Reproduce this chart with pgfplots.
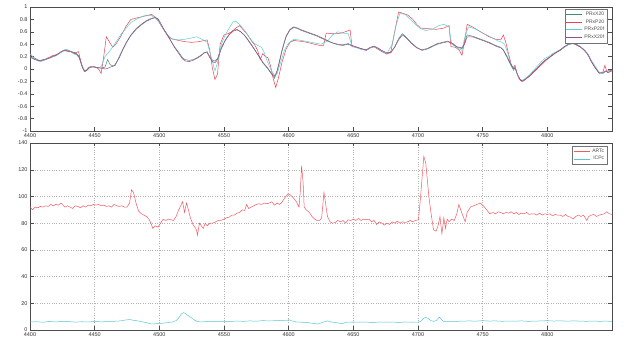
\documentclass[border=0pt]{standalone}
\usepackage{fontspec}
\setmainfont{Liberation Sans}
\usepackage{pgfplots}
\pgfplotsset{compat=1.18}
\definecolor{cgreen}{rgb}{0.25,0.55,0.42}
\definecolor{cred}{rgb}{0.93,0.25,0.32}
\definecolor{ccyan}{rgb}{0.35,0.82,0.82}
\definecolor{cpurple}{rgb}{0.6,0.3,0.55}
\definecolor{bred}{rgb}{0.95,0.35,0.4}
\definecolor{bcyan}{rgb}{0.35,0.78,0.82}
\pgfplotsset{legend image code/.code={\draw[#1, line width=0.6pt] (0pt,0pt) -- (16pt,0pt);}}
\pgfplotsset{
  mystyle/.style={
    scale only axis, width=582pt, xmin=4400, xmax=4850,
    xtick={4400,4450,4500,4550,4600,4650,4700,4750,4800},
    /pgf/number format/1000 sep={},
    /pgf/number format/assume math mode=true,
    tick align=inside, major tick length=3.5pt,
    tick style={black!70, line width=0.4pt},
    axis line style={black!70, line width=0.5pt},
    ticklabel style={font=\fontsize{5.5}{6.5}\selectfont, text=black!80},
    xticklabel style={yshift=1pt},
    yticklabel style={xshift=1pt},
    legend style={font=\fontsize{5}{6}\selectfont, text=black!70, draw=black!55,
      at={(0.992,0.985)}, anchor=north east, inner sep=1pt, row sep=-1.5pt,
      cells={anchor=east}},
    every axis plot/.append style={line width=0.5pt},
  }
}
\begin{document}
\begin{tikzpicture}
\path[use as bounding box] (0,0) rectangle (624pt,343pt);
\begin{axis}[mystyle, at={(30pt,212pt)}, anchor=south west, height=124pt,
  ymin=-1, ymax=1, ytick={-1,-0.8,-0.6,-0.4,-0.2,0,0.2,0.4,0.6,0.8,1}]
\addplot[color=cgreen] coordinates {
(4400,0.2)(4402,0.18)(4404,0.16)(4406,0.14)(4408,0.13)(4410,0.14)(4412,0.15)(4414,0.17)(4416,0.18)(4418,0.2)
(4420,0.22)(4422,0.24)(4424,0.27)(4426,0.29)(4428,0.3)(4430,0.29)(4432,0.28)(4434,0.27)(4436,0.25)(4438,0.2)
(4440,0.07)(4442,-0.03)(4444,-0.02)(4446,0.03)(4448,0.04)(4450,0.03)(4453,0.02)(4456,0.02)(4458,0.03)(4460,0.15)
(4462,0.07)(4464,0.05)(4466,0.06)(4469,0.2)(4472,0.33)(4475,0.45)(4478,0.55)(4482,0.65)(4486,0.72)(4490,0.78)
(4494,0.82)(4497,0.83)(4499,0.8)(4501,0.72)(4503,0.65)(4506,0.55)(4509,0.45)(4512,0.35)(4515,0.27)(4518,0.18)
(4520,0.15)(4523,0.14)(4526,0.15)(4529,0.18)(4532,0.22)(4535,0.26)(4537,0.28)(4539,0.2)(4541,0.14)(4543,0.13)
(4545,0.17)(4548,0.35)(4551,0.47)(4554,0.56)(4557,0.62)(4560,0.64)(4563,0.6)(4566,0.54)(4569,0.46)(4572,0.37)
(4575,0.27)(4578,0.17)(4580,0.1)(4582,0.05)(4584,0.0)(4586,-0.06)(4589,-0.15)(4591,-0.05)(4593,0.12)(4595,0.3)
(4598,0.52)(4601,0.63)(4604,0.67)(4607,0.65)(4610,0.62)(4614,0.59)(4618,0.56)(4622,0.53)(4626,0.49)(4630,0.45)
(4634,0.42)(4638,0.39)(4642,0.38)(4646,0.4)(4649,0.37)(4652,0.35)(4656,0.32)(4660,0.3)(4663,0.34)(4666,0.36)
(4669,0.33)(4672,0.29)(4676,0.25)(4679,0.26)(4682,0.36)(4685,0.49)(4688,0.57)(4691,0.51)(4695,0.42)(4699,0.35)
(4703,0.3)(4707,0.32)(4711,0.36)(4715,0.4)(4719,0.42)(4723,0.44)(4727,0.4)(4730,0.35)(4734,0.33)(4736,0.42)
(4738,0.55)(4742,0.53)(4746,0.5)(4750,0.47)(4755,0.43)(4760,0.38)(4764,0.35)(4766,0.3)(4769,0.18)(4772,0.05)
(4774,-0.02)(4775,0.03)(4777,-0.1)(4779,-0.18)(4781,-0.19)(4783,-0.16)(4786,-0.12)(4789,-0.06)(4792,0.0)(4795,0.07)
(4798,0.13)(4801,0.18)(4804,0.22)(4807,0.27)(4810,0.3)(4813,0.35)(4816,0.39)(4819,0.41)(4822,0.4)(4825,0.37)
(4828,0.32)(4831,0.25)(4834,0.13)(4837,0.03)(4840,-0.06)(4843,-0.07)(4845,-0.04)(4847,-0.05)(4850,-0.02)
};
\addlegendentry{PRxX20}
\addplot[color=cred] coordinates {
(4400,0.25)(4402,0.2)(4404,0.17)(4406,0.15)(4408,0.13)(4410,0.14)(4412,0.16)(4414,0.18)(4416,0.2)(4418,0.22)
(4420,0.23)(4422,0.25)(4424,0.27)(4426,0.3)(4428,0.31)(4430,0.3)(4432,0.27)(4434,0.25)(4436,0.27)(4437.5,0.28)
(4439,0.15)(4441,0.0)(4443,-0.04)(4445,0.02)(4447,0.04)(4450,0.04)(4453,0.0)(4455,-0.07)(4457,0.2)(4459,0.52)
(4461,0.45)(4464,0.35)(4467,0.42)(4470,0.52)(4474,0.68)(4478,0.8)(4482,0.82)(4486,0.84)(4490,0.86)(4494,0.88)
(4496,0.85)(4499,0.78)(4502,0.68)(4505,0.58)(4508,0.5)(4511,0.48)(4515,0.46)(4520,0.44)(4525,0.43)(4530,0.44)
(4535,0.46)(4537,0.47)(4539,0.3)(4541,0.02)(4543,-0.17)(4545,-0.08)(4547,0.4)(4550,0.55)(4553,0.57)(4556,0.6)
(4559,0.66)(4562,0.7)(4565,0.63)(4568,0.56)(4571,0.46)(4574,0.38)(4576,0.3)(4578,0.15)(4580,0.25)(4582,0.2)
(4584,0.18)(4586,0.05)(4588,-0.15)(4590,-0.3)(4592,-0.15)(4595,0.12)(4598,0.32)(4601,0.43)(4604,0.46)(4608,0.45)
(4612,0.44)(4616,0.42)(4620,0.4)(4624,0.38)(4627,0.38)(4629,0.58)(4633,0.57)(4637,0.57)(4641,0.58)(4645,0.61)
(4647.5,0.63)(4649,0.36)(4652,0.35)(4656,0.33)(4660,0.3)(4663,0.34)(4666,0.36)(4669,0.32)(4672,0.28)(4676,0.24)
(4679,0.28)(4682,0.6)(4685,0.92)(4688,0.9)(4692,0.87)(4696,0.8)(4699,0.72)(4702,0.66)(4708,0.65)(4714,0.64)
(4720,0.66)(4724,0.7)(4725.5,0.36)(4729,0.35)(4732,0.3)(4734,0.22)(4736,0.45)(4738,0.72)(4742,0.68)(4746,0.63)
(4750,0.58)(4755,0.52)(4760,0.48)(4764,0.47)(4766,0.55)(4768,0.42)(4770,0.25)(4772,0.08)(4773.5,0.02)(4775,0.06)
(4776.5,-0.07)(4778,-0.15)(4780,-0.2)(4782,-0.18)(4784,-0.14)(4787,-0.1)(4790,-0.04)(4793,0.02)(4796,0.08)(4799,0.14)
(4802,0.19)(4805,0.24)(4808,0.28)(4811,0.32)(4814,0.37)(4817,0.4)(4820,0.41)(4823,0.38)(4826,0.35)(4829,0.3)
(4832,0.22)(4834,0.12)(4837,0.02)(4840,-0.06)(4843,-0.05)(4844.5,0.06)(4846,-0.04)(4848,-0.02)(4850,-0.03)
};
\addlegendentry{PRxP20}
\addplot[color=ccyan] coordinates {
(4400,0.24)(4402,0.2)(4404,0.16)(4406,0.13)(4408,0.12)(4410,0.13)(4412,0.15)(4414,0.17)(4416,0.19)(4418,0.2)
(4420,0.21)(4422,0.24)(4424,0.27)(4426,0.3)(4428,0.32)(4430,0.3)(4432,0.28)(4434,0.24)(4436,0.23)(4438,0.18)
(4440,0.06)(4442,-0.02)(4444,-0.01)(4446,0.03)(4448,0.04)(4450,0.03)(4453,0.02)(4455,0.04)(4458,0.2)(4462,0.3)
(4466,0.42)(4470,0.55)(4474,0.65)(4478,0.75)(4482,0.8)(4486,0.84)(4490,0.87)(4494,0.86)(4497,0.82)(4500,0.75)
(4503,0.65)(4506,0.56)(4510,0.48)(4515,0.47)(4520,0.48)(4525,0.5)(4529,0.52)(4533,0.48)(4537,0.43)(4540,0.2)
(4543,-0.03)(4545,0.1)(4548,0.4)(4551,0.55)(4554,0.66)(4557,0.76)(4559,0.77)(4562,0.72)(4566,0.62)(4570,0.5)
(4573,0.42)(4576,0.38)(4579,0.35)(4581,0.27)(4583,0.15)(4586,0.0)(4589,-0.1)(4591,-0.08)(4594,0.12)(4597,0.32)
(4600,0.42)(4604,0.48)(4610,0.46)(4615,0.44)(4620,0.42)(4625,0.4)(4630,0.45)(4634,0.55)(4638,0.6)(4642,0.58)
(4646,0.57)(4649,0.37)(4652,0.35)(4656,0.32)(4660,0.3)(4663,0.34)(4666,0.36)(4669,0.33)(4672,0.29)(4676,0.25)
(4680,0.4)(4683,0.7)(4686,0.9)(4690,0.88)(4694,0.8)(4698,0.72)(4702,0.65)(4706,0.62)(4711,0.64)(4716,0.7)
(4720,0.72)(4724,0.68)(4726,0.4)(4729,0.36)(4732,0.32)(4734,0.3)(4736,0.5)(4739,0.68)(4744,0.65)(4750,0.58)
(4756,0.52)(4762,0.45)(4765,0.43)(4767,0.4)(4770,0.22)(4772,0.06)(4774,-0.01)(4775,0.03)(4777,-0.1)(4779,-0.17)
(4781,-0.18)(4783,-0.15)(4786,-0.1)(4789,-0.03)(4792,0.04)(4795,0.11)(4798,0.17)(4801,0.2)(4804,0.25)(4807,0.28)
(4810,0.31)(4813,0.35)(4816,0.39)(4819,0.41)(4822,0.4)(4825,0.37)(4828,0.32)(4831,0.25)(4834,0.14)(4837,0.04)
(4840,-0.05)(4843,-0.07)(4845,-0.04)(4847,-0.05)(4850,-0.02)
};
\addlegendentry{PRxP20f}
\addplot[color=cpurple] coordinates {
(4400,0.19)(4402,0.17)(4404,0.15)(4406,0.14)(4408,0.14)(4410,0.15)(4412,0.16)(4414,0.17)(4416,0.19)(4418,0.21)
(4420,0.22)(4422,0.25)(4424,0.28)(4426,0.3)(4428,0.29)(4430,0.28)(4432,0.28)(4434,0.26)(4436,0.24)(4438,0.19)
(4440,0.05)(4442,-0.04)(4444,-0.02)(4446,0.02)(4448,0.03)(4450,0.03)(4453,0.02)(4456,0.01)(4458,0.0)(4460,0.01)
(4462,0.03)(4465,0.05)(4469,0.18)(4472,0.32)(4475,0.44)(4478,0.54)(4482,0.64)(4486,0.71)(4490,0.77)(4494,0.81)
(4497,0.83)(4499,0.81)(4501,0.74)(4503,0.66)(4506,0.56)(4509,0.45)(4512,0.34)(4515,0.25)(4518,0.16)(4520,0.13)
(4523,0.12)(4526,0.14)(4529,0.17)(4532,0.21)(4535,0.27)(4537,0.26)(4539,0.18)(4541,0.12)(4543,0.1)(4545,0.15)
(4548,0.33)(4551,0.46)(4554,0.55)(4557,0.61)(4560,0.63)(4563,0.6)(4566,0.54)(4569,0.45)(4572,0.36)(4575,0.27)
(4578,0.18)(4580,0.11)(4582,0.06)(4584,0.01)(4586,-0.05)(4589,-0.12)(4591,-0.03)(4593,0.14)(4595,0.32)(4598,0.53)
(4601,0.64)(4604,0.68)(4607,0.66)(4610,0.63)(4614,0.6)(4618,0.57)(4622,0.54)(4626,0.5)(4630,0.46)(4634,0.42)
(4638,0.4)(4642,0.39)(4646,0.41)(4649,0.38)(4652,0.36)(4656,0.33)(4660,0.31)(4663,0.35)(4666,0.37)(4669,0.34)
(4672,0.3)(4676,0.26)(4679,0.27)(4682,0.35)(4685,0.47)(4688,0.55)(4691,0.5)(4695,0.41)(4699,0.34)(4703,0.31)
(4707,0.33)(4711,0.37)(4715,0.41)(4719,0.43)(4723,0.45)(4727,0.41)(4730,0.36)(4734,0.34)(4736,0.4)(4738,0.52)
(4742,0.52)(4746,0.49)(4750,0.46)(4755,0.42)(4760,0.37)(4764,0.34)(4766,0.31)(4769,0.2)(4772,0.07)(4774,0.0)
(4775,0.02)(4777,-0.09)(4779,-0.17)(4781,-0.2)(4783,-0.17)(4786,-0.12)(4789,-0.05)(4792,0.01)(4795,0.08)(4798,0.14)
(4801,0.18)(4804,0.23)(4807,0.27)(4810,0.31)(4813,0.36)(4816,0.4)(4819,0.42)(4822,0.4)(4825,0.36)(4828,0.31)
(4831,0.24)(4834,0.12)(4837,0.02)(4840,-0.07)(4843,-0.06)(4845,-0.03)(4847,-0.06)(4850,-0.03)
};
\addlegendentry{PRxX20f}
\end{axis}
\begin{axis}[mystyle, at={(30pt,13pt)}, anchor=south west, height=187pt,
  ymin=0, ymax=140, ytick={0,20,40,60,80,100,120,140},
  grid=major, grid style={dotted, black!30, line width=0.35pt}]
\addplot[color=bred] coordinates {
(4400,92)(4402,90)(4404,92)(4406,91.5)(4408,92.5)(4410,92)(4412,93)(4414,92.5)(4416,94)(4418,93)
(4420,94)(4422,93.5)(4424,95)(4425,94)(4427,92)(4429,93)(4431,92)(4433,91)(4435,93)(4437,92.5)
(4439,91.5)(4441,93)(4443,92)(4445,93.5)(4447,93)(4449,94)(4451,93.5)(4453,94)(4455,93)(4457,93.5)
(4459,92.5)(4461,93)(4463,92)(4465,94)(4467,93)(4469,92.5)(4471,93)(4473,92)(4475,92)(4477,95)
(4478.5,105)(4480,103)(4482,95)(4484,89)(4486,87)(4488,86)(4490,85)(4492,83)(4493.5,80)(4495,76)
(4497,78)(4499,77)(4501,80)(4503,83)(4505,82)(4507,83)(4509,82.5)(4511,82)(4513,85)(4515,90)
(4516.5,93)(4518,96)(4519.5,88)(4521,95)(4522.5,90)(4524,84)(4526,79)(4527.5,77)(4528.7,75)(4529.5,71)
(4531,80)(4532.5,78)(4534,76)(4535.5,80)(4537,78)(4539,80)(4541.5,80)(4543.5,81)(4545.5,82)(4547.5,82)
(4550,83)(4552,84)(4554,84.5)(4556,86)(4558,86)(4560,87.5)(4562,88)(4564,90)(4566,89.5)(4567.5,94)
(4569,91)(4571,92)(4573,93)(4575,94)(4577,94.5)(4579,94)(4581,95)(4583,94.5)(4585,95)(4587,96)
(4589,93.5)(4591,95)(4593,94)(4595,96)(4597,99)(4599.5,102)(4601.5,101)(4603.5,99)(4606,96)(4608,92)
(4609,104)(4610,123)(4611.2,110)(4612,92)(4613.5,90)(4616,88)(4618,85)(4620,83)(4622,82)(4624,82)
(4625.5,84)(4627.3,103)(4628.5,95)(4630,85)(4632,81)(4634,80)(4636,80.5)(4638,82)(4640,81)(4642,82)
(4644,80)(4646,82.5)(4648,82)(4650,83)(4652,82)(4654,83.5)(4656,82)(4658,83)(4660,82.5)(4662,83)
(4664,81)(4666,82)(4668,79)(4670,81)(4672,80)(4674,78.5)(4676,80)(4678,79)(4680,81)(4682,80)
(4684,81.5)(4686,80)(4688,81)(4690,80.5)(4692,81)(4694,82)(4696,81)(4698,82)(4700.4,82.5)(4702,100)
(4704.5,130)(4706,125)(4708.4,100)(4710,88)(4712,75)(4714,74)(4715.5,78)(4717,85)(4718.5,72)(4720,84)
(4721.2,76)(4722.6,83)(4724,81)(4726,83)(4728,82)(4730,87)(4731.6,94)(4733,90)(4734.5,86)(4736.5,81)
(4738,88)(4740.5,92)(4743,93)(4745.5,94)(4748,95)(4750.5,93)(4753,90)(4755.5,87)(4758,88)(4760,87)
(4762,88.5)(4764,88)(4766,87)(4768,88)(4770,87.5)(4772,88.5)(4774,87)(4776,88)(4778,86.5)(4780,87.5)
(4782,87)(4784,88)(4786,86.5)(4788,87)(4790,87)(4792,86)(4794,87.5)(4796,86)(4798,87)(4800,86.5)
(4802,87)(4804,85.5)(4806,86.5)(4808,86)(4810,86)(4812,85)(4814,86.5)(4816,85)(4818,84.5)(4820,83)
(4822,85)(4824,86)(4826,85)(4828,86)(4830.5,82)(4832,85)(4834,86)(4836,86.5)(4838,85)(4840,86)
(4842,86.5)(4844,87)(4846,88.5)(4848,87)(4850,86.5)
};
\addlegendentry{ARTc}
\addplot[color=bcyan] coordinates {
(4400,6)(4405,6.2)(4410,5.8)(4415,6.4)(4420,6)(4425,6.5)(4430,6.3)(4435,5.9)(4440,6.2)(4445,6)
(4450,6.4)(4455,6.1)(4460,6.3)(4465,6.5)(4470,6.8)(4474,7.5)(4477,7.8)(4480,7.3)(4485,6.5)(4490,5.5)
(4494,4.5)(4498,4.8)(4502,5)(4506,5.5)(4510,6)(4513,7)(4515,9)(4517,12)(4518.5,13)(4520,12.5)
(4522,11)(4525,9)(4527,7.5)(4529,6.5)(4532,6)(4536,6.3)(4540,6.5)(4545,6.2)(4550,6.5)(4555,6.4)
(4560,6.7)(4565,6.5)(4570,6.8)(4575,6.6)(4580,7)(4585,6.8)(4590,7)(4595,7.2)(4598,6.8)(4600,7.8)
(4602,7)(4606,6)(4610,5.8)(4615,5.5)(4620,4.8)(4623,4.5)(4627,6)(4630,6.8)(4633,6)(4637,5.5)
(4641,4.8)(4645,5.8)(4650,6)(4655,5.8)(4660,6)(4665,5.5)(4670,6)(4675,5.8)(4680,6)(4685,5.6)
(4690,6)(4695,5.8)(4700,6)(4702,6.3)(4704,8.5)(4706,9.5)(4708,8.5)(4710,7)(4712,6.5)(4714,7)
(4716.5,9.7)(4718,8)(4719.5,6.5)(4723,6.5)(4728,6.4)(4733,6.6)(4740,6.8)(4745,6.6)(4750,7)(4755,6.7)
(4760,6.8)(4765,6.5)(4770,6.7)(4775,6.6)(4780,6.8)(4785,6.5)(4790,6.6)(4795,6.8)(4800,7)(4805,6.7)
(4810,6.9)(4815,6.6)(4820,6.8)(4825,6.7)(4830,6.5)(4835,6.7)(4840,6.5)(4845,6.6)(4850,6.5)
};
\addlegendentry{ICPc}
\end{axis}
\end{tikzpicture}
\end{document}
